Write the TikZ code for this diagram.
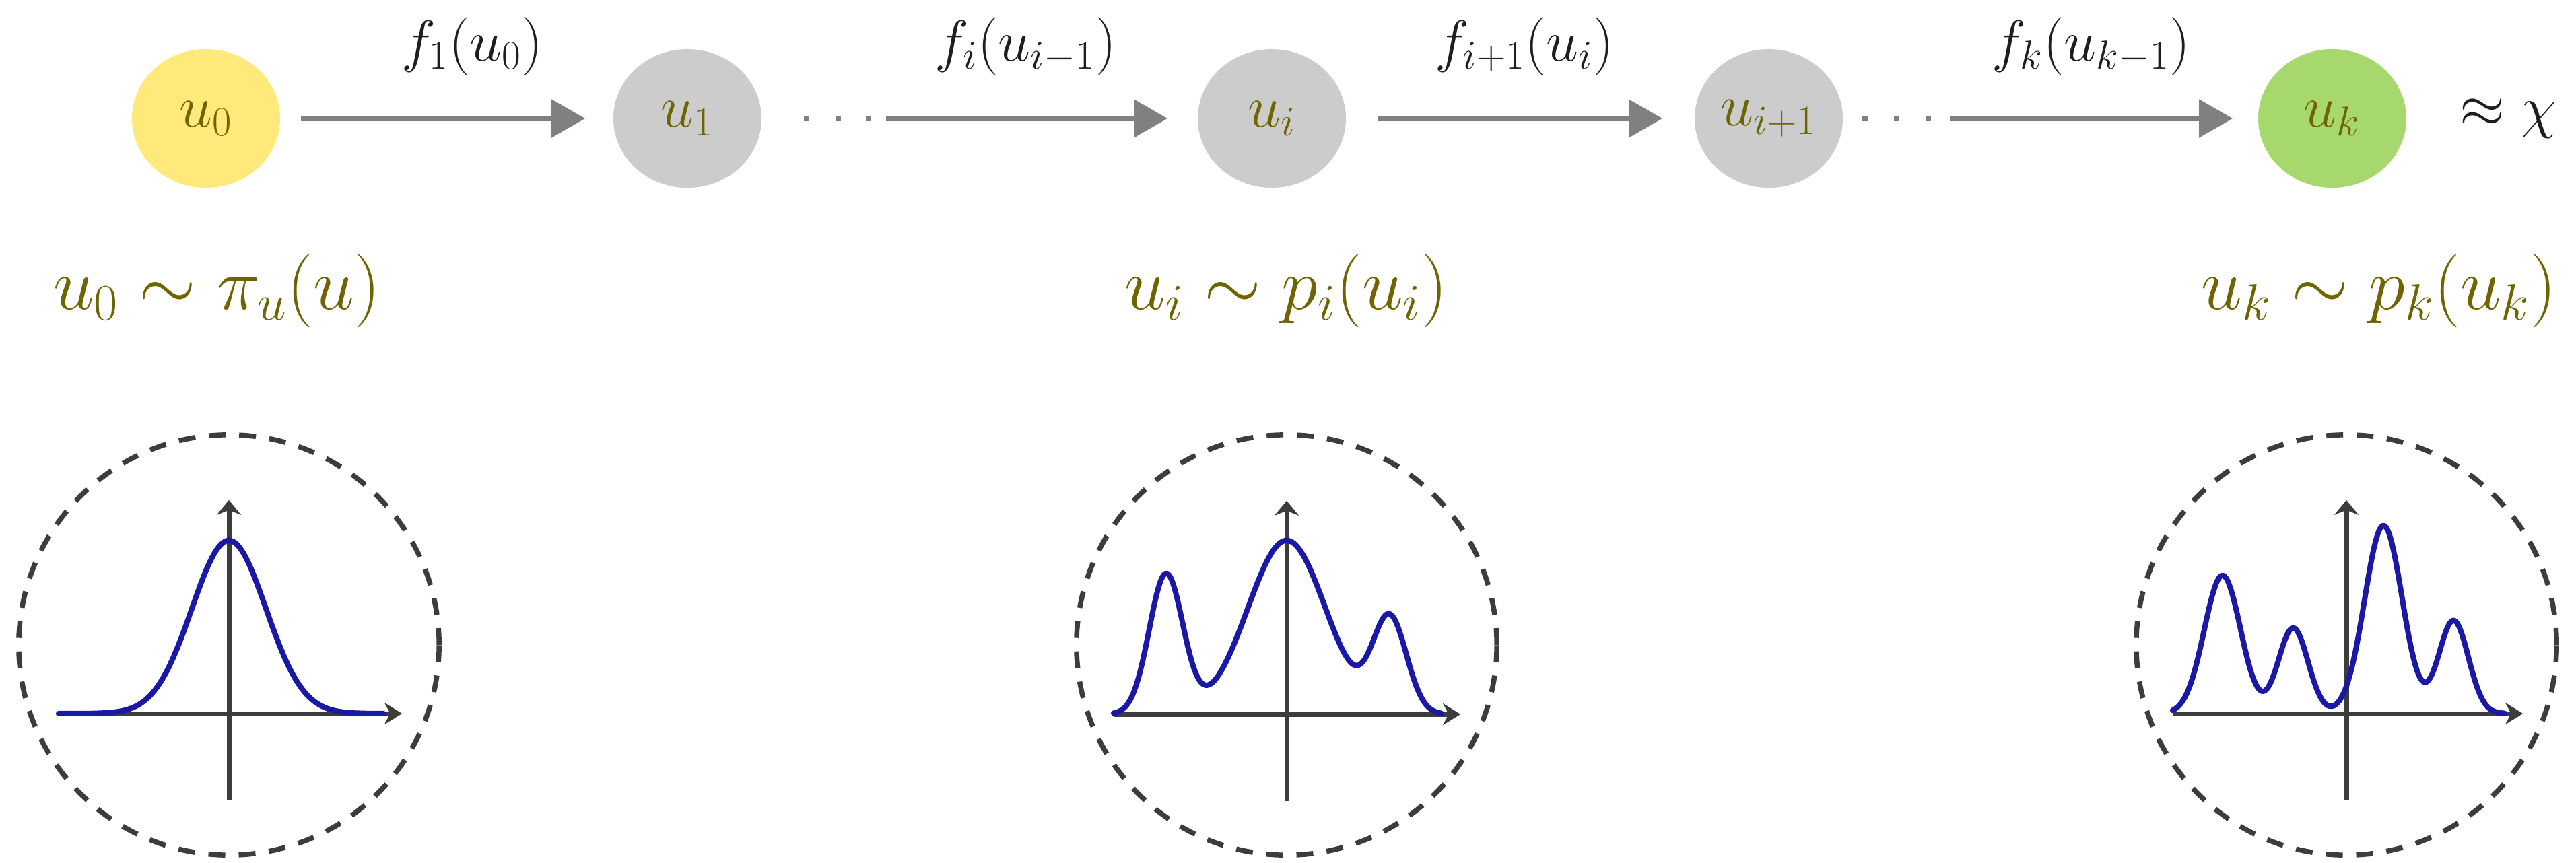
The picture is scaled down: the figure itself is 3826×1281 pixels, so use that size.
\RequirePackage{fix-cm}
\documentclass[tikz,border=0pt]{standalone}
\usetikzlibrary{arrows.meta,shapes.geometric}
\definecolor{nodeyellow}{RGB}{255,233,122}
\definecolor{nodegray}{RGB}{204,204,204}
\definecolor{nodegreen}{RGB}{166,216,110}
\definecolor{olivetext}{RGB}{112,100,0}
\definecolor{arrgray}{RGB}{128,128,128}
\definecolor{axisgray}{RGB}{60,60,60}
\definecolor{curveblue}{RGB}{25,25,165}
\definecolor{labelblack}{RGB}{30,30,30}
\begin{document}
\begin{tikzpicture}[x=0.01cm,y=-0.01cm,
  declare function={g(\t,\m,\s)=exp(-min(9,(\t-\m)*(\t-\m)/(2*\s*\s)));},
  varnode/.style={ellipse, minimum width=2.2cm, minimum height=2.06cm, inner sep=0pt,
    text=olivetext, font=\fontsize{25}{30}\selectfont},
  flow/.style={draw=arrgray, line width=0.08cm, -{Triangle[length=0.5cm,width=0.55cm]}},
  flabel/.style={font=\fontsize{24.5}{30}\selectfont, text=labelblack, anchor=base},
  distlabel/.style={text=olivetext, font=\fontsize{31}{36}\selectfont, anchor=base},
  haloring/.style={circle, draw=axisgray, line width=0.075cm, dash pattern=on 0.25cm off 0.2cm,
    minimum size=6.24cm, inner sep=0pt},
  axisline/.style={draw=axisgray, line width=0.07cm},
  pdfcurve/.style={draw=curveblue, line width=0.08cm, line join=round, line cap=round}
]
\fill[white] (0,0) rectangle (3826,1281);
\useasboundingbox (0,0) rectangle (3826,1281);

% chain of variables
\node[varnode, fill=nodeyellow] (u0)  at (306,176)  {$u_0$};
\node[varnode, fill=nodegray]   (u1)  at (1021,176) {$u_1$};
\node[varnode, fill=nodegray]   (ui)  at (1889,176) {$u_i$};
\node[varnode, fill=nodegray]   (ui1) at (2627,176) {$u_{i+1}$};
\node[varnode, fill=nodegreen]  (uk)  at (3464,176) {$u_k$};
\node[font=\fontsize{24.5}{30}\selectfont, text=labelblack] (approx) at (3725,176) {$\approx\chi$};

% connectors
\draw[flow, shorten <=0.30cm, shorten >=0.41cm] (u0) -- (u1);
\draw[flow, shorten <=0.62cm, shorten >=0.44cm,
  dash pattern=on 0.08cm off 0.39cm on 0.08cm off 0.37cm on 0.08cm off 0.22cm on 10cm] (u1) -- (ui);
\draw[flow, shorten <=0.46cm, shorten >=0.47cm] (ui) -- (ui1);
\draw[flow, shorten <=0.28cm, shorten >=0.37cm,
  dash pattern=on 0.08cm off 0.39cm on 0.08cm off 0.39cm on 0.08cm off 0.28cm on 10cm] (ui1) -- (uk);

% connector labels
\node[flabel] (l1) at (701,90)  {$f_1(u_0)$};
\node[flabel] (l2) at (1523,90) {$f_i(u_{i-1})$};
\node[flabel] (l3) at (2264,90) {$f_{i+1}(u_i)$};
\node[flabel] (l4) at (3106,90) {$f_k(u_{k-1})$};

% distribution labels
\node[distlabel] (d0) at (322,459)  {$u_0 \sim \pi_u(u)$};
\node[distlabel] (di) at (1910,459) {$u_i \sim p_i(u_i)$};
\node[distlabel] (dk) at (3533,459) {$u_k \sim p_k(u_k)$};

% dashed rings
\node[haloring] (h0) at (340,958)  {};
\node[haloring] (hi) at (1911,958) {};
\node[haloring] (hk) at (3485,958) {};

% left plot: Gaussian
\begin{scope}[shift={(340,1060)}, x=1cm, y=1cm]
  \draw[axisline, -{Stealth[length=0.26cm,width=0.32cm]}] (-2.53,0) -- (2.57,0);
  \draw[axisline, -{Stealth[length=0.22cm,width=0.36cm]}] (0,-1.28) -- (0,3.17);
  \draw[pdfcurve] plot[domain=-2.53:2.3, samples=200] (\x,{2.57*g(\x,0,0.55)});
\end{scope}

% middle plot
\begin{scope}[shift={(1911,1061)}, x=1cm, y=1cm]
  \draw[axisline, -{Stealth[length=0.26cm,width=0.32cm]}] (-2.57,0) -- (2.58,0);
  \draw[axisline, -{Stealth[length=0.22cm,width=0.36cm]}] (0,-1.29) -- (0,3.17);
  \draw[pdfcurve] plot[domain=-2.57:2.3, samples=250]
    (\x,{2.07*g(\x,-1.79,0.25)+2.58*g(\x,0,0.58)+1.41*g(\x,1.53,0.25)});
\end{scope}

% right plot
\begin{scope}[shift={(3485,1060)}, x=1cm, y=1cm]
  \draw[axisline, -{Stealth[length=0.26cm,width=0.32cm]}] (-2.58,0) -- (2.62,0);
  \draw[axisline, -{Stealth[length=0.22cm,width=0.36cm]}] (0,-1.29) -- (0,3.17);
  \draw[pdfcurve] plot[domain=-2.58:2.35, samples=300]
    (\x,{2.05*g(\x,-1.84,0.27)+1.27*g(\x,-0.79,0.22)+2.79*g(\x,0.55,0.28)+1.38*g(\x,1.59,0.22)});
\end{scope}
\end{tikzpicture}
\end{document}
